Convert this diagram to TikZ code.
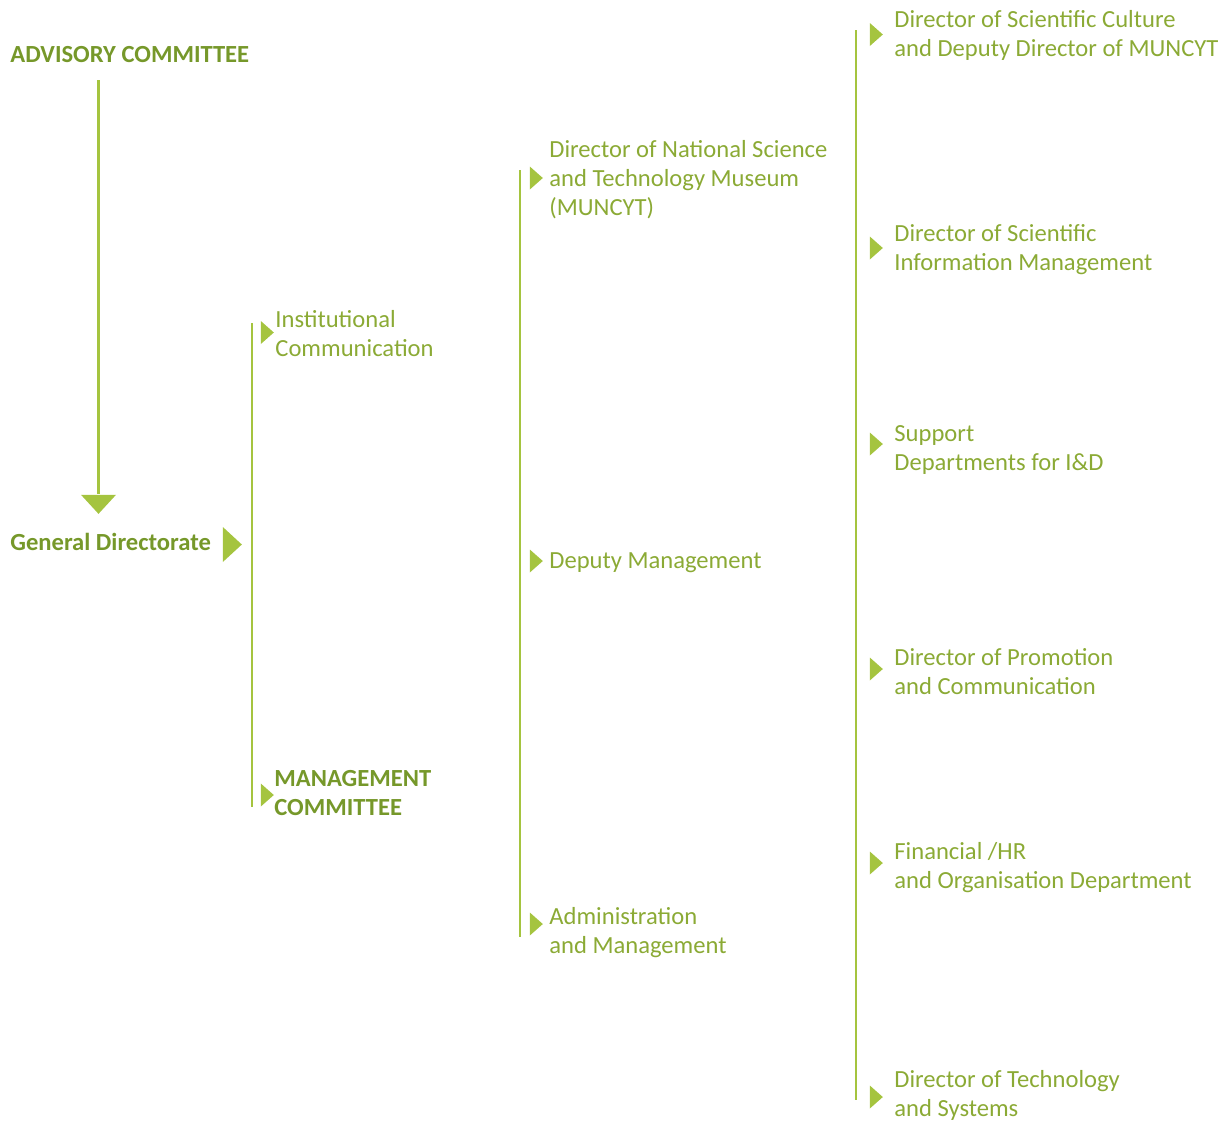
\documentclass[tikz,border=0pt]{standalone}
\usepackage{fontspec}
\setmainfont{Carlito}
\usetikzlibrary{shapes.geometric}
\definecolor{leaf}{HTML}{A5C43F}
\definecolor{leaftext}{HTML}{8BAA35}
\definecolor{leafdark}{HTML}{76982A}
\tikzset{
  pointer/.style={isosceles triangle,isosceles triangle stretches,fill=leaf,draw=none,
    inner sep=0pt,minimum width=11.5pt,minimum height=6.5pt},
  bigpointer/.style={pointer,minimum width=17.5pt,minimum height=9.5pt},
  entry/.style={anchor=north west,inner sep=0pt,align=left,text=leaftext,
    font=\fontsize{12.3}{14.4}\selectfont},
  heading/.style={entry,text=leafdark,font=\fontsize{12.3}{14.4}\selectfont\bfseries},
  bar/.style={draw=leaf,line width=0.75pt},
  trunk/.style={draw=leaf,line width=1.5pt}
}
\begin{document}
\begin{tikzpicture}[x=0.5pt,y=-0.5pt]
    \useasboundingbox (0,0) rectangle (1224,1120);

    % left column
    \node[heading] (adv) at (10,46) {ADVISORY COMMITTEE};
    \node[bigpointer,shape border rotate=-90] (advtip) at (98.5,502.5) {};
    \coordinate (advfoot) at (98.5,80);
    \draw[trunk] (advfoot) -- (advtip.north);
    \node[heading] (gd) at (10,533) {General Directorate};
    \node[bigpointer] (gdtip) at (230.5,544.5) {};

    % first bracket
    \coordinate (b1top) at (252,323);
    \coordinate (b1bot) at (252,807);
    \draw[bar] (b1top) -- (b1bot);
    \node[pointer] (comtip) at (266,332.5) {};
    \node[entry] (com) at (275,310) {Institutional\\Communication};
    \node[pointer] (mgmttip) at (266,795) {};
    \node[heading] (mgmt) at (274,770) {MANAGEMENT\\COMMITTEE};

    % second bracket
    \coordinate (b2top) at (520,170);
    \coordinate (b2bot) at (520,937);
    \draw[bar] (b2top) -- (b2bot);
    \node[pointer] (museumtip) at (535,178) {};
    \node[entry] (museum) at (549,140) {Director of National Science\\and Technology Museum\\(MUNCYT)};
    \node[pointer] (deputytip) at (535,561) {};
    \node[entry] (deputy) at (549,552) {Deputy Management};
    \node[pointer] (admintip) at (535,924) {};
    \node[entry] (admin) at (549,907) {Administration\\and Management};

    % third bracket
    \coordinate (b3top) at (856,30);
    \coordinate (b3bot) at (856,1100);
    \draw[bar] (b3top) -- (b3bot);
    \node[pointer] (culturetip) at (875,34.5) {};
    \node[entry] (culture) at (894,10) {Director of Scientific Culture\\and Deputy Director of MUNCYT};
    \node[pointer] (infotip) at (875,248) {};
    \node[entry] (info) at (894,224) {Director of Scientific\\Information Management};
    \node[pointer] (supporttip) at (875,444) {};
    \node[entry] (support) at (894,425) {Support\\Departments for I\&D};
    \node[pointer] (promotip) at (875,669) {};
    \node[entry] (promo) at (894,648) {Director of Promotion\\and Communication};
    \node[pointer] (financetip) at (875,863) {};
    \node[entry] (finance) at (894,842) {Financial /HR\\and Organisation Department};
    \node[pointer] (techtip) at (875,1097) {};
    \node[entry] (tech) at (894,1070) {Director of Technology\\and Systems};
\end{tikzpicture}
\end{document}
